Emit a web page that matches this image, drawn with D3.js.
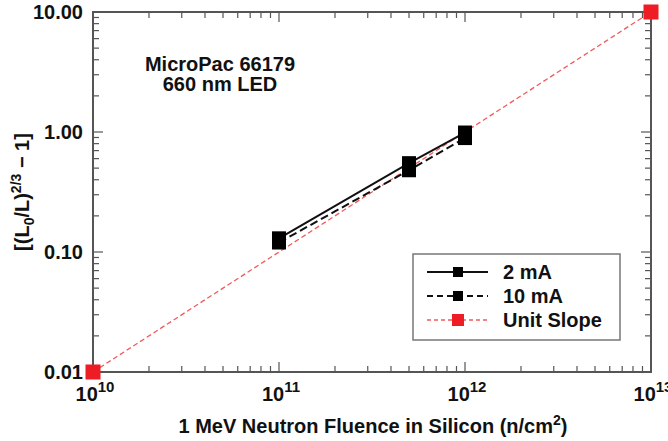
<!DOCTYPE html>
<html lang="en">
<head>
    <meta charset="utf-8">
    <title>MicroPac 66179 660 nm LED</title>
    <script src="https://d3js.org/d3.v7.min.js"></script>
    <style>
        body { margin: 0; background: white; }
        text { font-family: "Liberation Sans", Arial, sans-serif; font-weight: bold; fill: #111; }
    </style>
</head>
<body>
    <div id="chart"></div>
    <script>
        // fluence values (n/cm^2) and damage factor per series
        const fluence = [1e11, 5e11, 1e12];
        const ma2 = [0.13, 0.55, 0.99];
        const ma10 = [0.12, 0.48, 0.89];
        const unitX = [1e10, 1e13];
        const unitY = [0.01, 10];
        const yTicks = [0.01, 0.1, 1, 10];
        const xTicks = [1e10, 1e11, 1e12, 1e13];

        var width = 668, height = 441;
        var margin = {top: 12, right: 17, bottom: 69, left: 93};

        var svg = d3.select("#chart").append("svg")
            .attr("width", width)
            .attr("height", height);

        var x = d3.scaleLog().domain([1e10, 1e13]).range([margin.left, width - margin.right]);
        var y = d3.scaleLog().domain([0.01, 10]).range([height - margin.bottom, margin.top]);

        var x0 = x.range()[0], x1 = x.range()[1], y0 = y.range()[0], y1 = y.range()[1];
        var frame = "#555";

        // minor ticks 2..9 in each decade
        function minors(lo, hi) {
            var out = [];
            for (var e = lo; e < hi; e++)
                for (var m = 2; m <= 9; m++) out.push(m * Math.pow(10, e));
            return out;
        }
        var xMinor = minors(10, 13), yMinor = minors(-2, 1);

        var ticks = svg.append("g").attr("stroke", frame).attr("stroke-width", 1.2);
        // bottom and top
        xMinor.forEach(v => {
            ticks.append("line").attr("x1", x(v)).attr("x2", x(v)).attr("y1", y0).attr("y2", y0 - 6);
            ticks.append("line").attr("x1", x(v)).attr("x2", x(v)).attr("y1", y1).attr("y2", y1 + 6);
        });
        xTicks.forEach(v => {
            ticks.append("line").attr("x1", x(v)).attr("x2", x(v)).attr("y1", y0).attr("y2", y0 - 10);
            ticks.append("line").attr("x1", x(v)).attr("x2", x(v)).attr("y1", y1).attr("y2", y1 + 10);
        });
        // left and right
        yMinor.forEach(v => {
            ticks.append("line").attr("y1", y(v)).attr("y2", y(v)).attr("x1", x0).attr("x2", x0 + 6);
            ticks.append("line").attr("y1", y(v)).attr("y2", y(v)).attr("x1", x1).attr("x2", x1 - 6);
        });
        yTicks.forEach(v => {
            ticks.append("line").attr("y1", y(v)).attr("y2", y(v)).attr("x1", x0).attr("x2", x0 + 10);
            ticks.append("line").attr("y1", y(v)).attr("y2", y(v)).attr("x1", x1).attr("x2", x1 - 10);
        });

        // frame
        svg.append("rect")
            .attr("x", x0).attr("y", y1)
            .attr("width", x1 - x0).attr("height", y0 - y1)
            .attr("fill", "none").attr("stroke", frame).attr("stroke-width", 2);

        // y tick labels
        svg.selectAll(".ylab").data(yTicks).enter().append("text")
            .attr("x", x0 - 10).attr("y", d => y(d) + 7)
            .attr("text-anchor", "end").style("font-size", "20px")
            .text(d => d3.format(".2f")(d));

        // x tick labels with superscript exponent
        xTicks.forEach(v => {
            var t = svg.append("text").attr("x", x(v) + 2).attr("y", y0 + 29)
                .attr("text-anchor", "middle").style("font-size", "20px");
            t.append("tspan").text("10");
            t.append("tspan").attr("dy", -9).style("font-size", "15px").text(Math.round(Math.log10(v)));
        });

        // axis titles
        var xt = svg.append("text").attr("x", (x0 + x1) / 2 + 1).attr("y", 433)
            .attr("text-anchor", "middle").style("font-size", "20px");
        xt.append("tspan").text("1 MeV Neutron Fluence in Silicon (n/cm");
        xt.append("tspan").attr("dy", -8).style("font-size", "14px").text("2");
        xt.append("tspan").attr("dy", 8).text(")");

        var yt = svg.append("text")
            .attr("transform", "translate(29," + ((y0 + y1) / 2) + ") rotate(-90)")
            .attr("text-anchor", "middle").style("font-size", "20px");
        yt.append("tspan").text("[(L");
        yt.append("tspan").attr("dy", 5).style("font-size", "14px").text("0");
        yt.append("tspan").attr("dy", -5).text("/L)");
        yt.append("tspan").attr("dy", -8).style("font-size", "14px").text("2/3");
        yt.append("tspan").attr("dy", 8).text(" \u2212 1]");

        // annotation
        svg.append("text").attr("x", 220).attr("y", 71).attr("text-anchor", "middle")
            .style("font-size", "20px").text("MicroPac 66179");
        svg.append("text").attr("x", 220).attr("y", 91).attr("text-anchor", "middle")
            .style("font-size", "20px").text("660 nm LED");

        var line = d3.line().x(d => x(d[0])).y(d => y(d[1]));
        var red = "#ee1c25";

        // unit slope
        var unit = unitX.map((v, i) => [v, unitY[i]]);
        svg.append("path").datum(unit).attr("d", line)
            .attr("fill", "none").attr("stroke", "#f05a5a").attr("stroke-width", 1.3)
            .attr("stroke-dasharray", "5,3");

        var series = [
            {vals: ma10, dash: "8,4"},
            {vals: ma2, dash: null}
        ];
        series.forEach(s => {
            var pts = fluence.map((v, i) => [v, s.vals[i]]);
            svg.append("path").datum(pts).attr("d", line)
                .attr("fill", "none").attr("stroke", "#111").attr("stroke-width", 2)
                .attr("stroke-dasharray", s.dash);
            svg.selectAll(null).data(pts).enter().append("rect")
                .attr("x", d => x(d[0]) - 7).attr("y", d => y(d[1]) - 7)
                .attr("width", 14).attr("height", 14).attr("fill", "#000");
        });

        svg.selectAll(null).data(unit).enter().append("rect")
            .attr("x", d => x(d[0]) - 7.5).attr("y", d => y(d[1]) - 7.5)
            .attr("width", 15).attr("height", 15).attr("fill", red);

        // legend
        var lg = svg.append("g").attr("transform", "translate(413,254)");
        lg.append("rect").attr("width", 207).attr("height", 86)
            .attr("fill", "white").attr("stroke", "#777").attr("stroke-width", 1.5);
        var items = [
            {label: "2 mA", color: "#111", dash: null, mark: "#000", w: 2, s: 10},
            {label: "10 mA", color: "#111", dash: "6,4", mark: "#000", w: 2, s: 10},
            {label: "Unit Slope", color: "#f05a5a", dash: "4,3", mark: red, w: 1.3, s: 12}
        ];
        items.forEach((it, i) => {
            var yy = 18 + i * 24;
            lg.append("line").attr("x1", 14).attr("x2", 75).attr("y1", yy).attr("y2", yy)
                .attr("stroke", it.color).attr("stroke-width", it.w).attr("stroke-dasharray", it.dash);
            lg.append("rect").attr("x", 45 - it.s / 2).attr("y", yy - it.s / 2)
                .attr("width", it.s).attr("height", it.s).attr("fill", it.mark);
            lg.append("text").attr("x", 90).attr("y", yy + 7).style("font-size", "20px").text(it.label);
        });
    </script>
</body>
</html>
